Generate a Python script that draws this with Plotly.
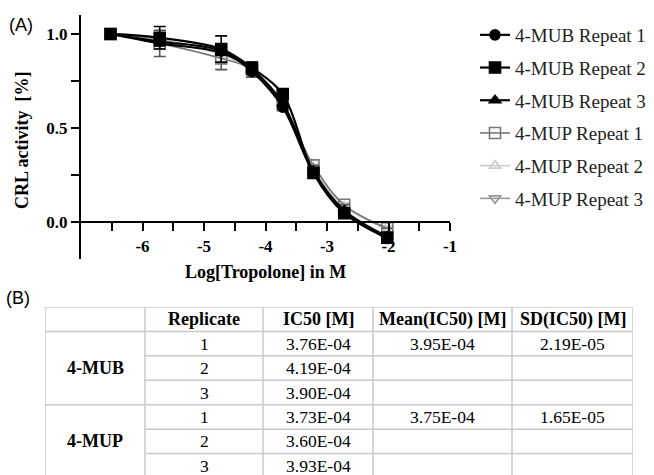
import plotly.graph_objects as go

# ---------------- data ----------------
log_conc = [-6.52, -5.72, -4.72, -4.22, -3.72, -3.22, -2.72, -2.02]

series_names = ["4-MUB Repeat 1", "4-MUB Repeat 2", "4-MUB Repeat 3",
                "4-MUP Repeat 1", "4-MUP Repeat 2", "4-MUP Repeat 3"]
mub1 = [1.00, 0.96, 0.91, 0.80, 0.61, 0.26, 0.050, -0.090]
mub2 = [1.00, 0.98, 0.92, 0.82, 0.68, 0.26, 0.045, -0.085]
mub3 = [1.00, 0.95, 0.90, 0.81, 0.63, 0.27, 0.060, -0.080]
mup1 = [1.00, 0.95, 0.87, 0.81, 0.62, 0.30, 0.090, -0.035]
mup2 = [1.00, 0.96, 0.89, 0.80, 0.61, 0.29, 0.080, -0.030]
mup3 = [1.00, 0.97, 0.90, 0.81, 0.63, 0.29, 0.085, -0.040]

# error bars (+/-), zero where not visible
mub2_err_plus = [0, 0.06, 0.07, 0.03, 0, 0, 0, 0]
mub2_err_minus = [0, 0.06, 0.07, 0.03, 0, 0, 0, 0]
mup1_err_plus = [0, 0.07, 0.06, 0.02, 0, 0, 0, 0]
mup1_err_minus = [0, 0.07, 0.06, 0.04, 0, 0, 0, 0]

x_tickvals = [-6.5, -6, -5.5, -5, -4.5, -4, -3.5, -3, -2.5, -2, -1.5, -1]
x_ticktext = ["", "-6", "", "-5", "", "-4", "", "-3", "", "-2", "", "-1"]
y_tickvals = [0, 0.25, 0.5, 0.75, 1.0]
y_ticktext = ["0.0", "", "0.5", "", "1.0"]

# table data
tbl_header = ["", "Replicate", "IC50 [M]", "Mean(IC50) [M]", "SD(IC50) [M]"]
tbl_groups = ["4-MUB", "4-MUP"]
tbl_replicates = ["1", "2", "3"]
tbl_ic50 = [["3.76E-04", "4.19E-04", "3.90E-04"],
            ["3.73E-04", "3.60E-04", "3.93E-04"]]
tbl_mean = ["3.95E-04", "3.75E-04"]
tbl_sd = ["2.19E-05", "1.65E-05"]

# ---------------- layout constants ----------------
W, H = 654, 475
SERIF = "Liberation Serif, Times New Roman, serif"
SANS = "Liberation Sans, Arial, sans-serif"

def px_x(p):
    return p / W

def px_y(p):
    return 1 - p / H

plot_left, plot_right = 81, 450
plot_top, plot_bottom = 15.2, 259.2
y_zero_px = 221.7

styles = [
    dict(color="black", symbol="circle", width=2.2, size=10),
    dict(color="black", symbol="square", width=2.2, size=11),
    dict(color="black", symbol="triangle-up", width=2.2, size=10),
    dict(color="#777777", symbol="square-open", width=1.6, size=11),
    dict(color="#cccccc", symbol="triangle-up-open", width=1.6, size=10),
    dict(color="#999999", symbol="triangle-down-open", width=1.6, size=10),
]
values = [mub1, mub2, mub3, mup1, mup2, mup3]
errs = {1: (mub2_err_plus, mub2_err_minus, "black"),
        3: (mup1_err_plus, mup1_err_minus, "#555555")}

fig = go.Figure()

# draw MUP first (underneath), MUB on top; legend rank keeps order
order = [5, 4, 3, 2, 1, 0]
for i in order:
    st = styles[i]
    kw = {}
    if i in errs:
        ep, em, ec = errs[i]
        kw["error_y"] = dict(type="data", array=ep, arrayminus=em, symmetric=False,
                             color=ec, thickness=1.6, width=6)
    fig.add_trace(go.Scatter(
        x=log_conc, y=values[i], name=series_names[i],
        mode="lines+markers",
        line=dict(color=st["color"], width=st["width"], shape="spline", smoothing=1.0),
        marker=dict(symbol=st["symbol"], size=st["size"], color=st["color"],
                    line=dict(color=st["color"], width=1.6)),
        legendgroup=f"g{i}", legendrank=i + 1,
        xaxis="x", yaxis="y", cliponaxis=False, **kw))

# ---------------- table ----------------
col_w = [100, 118, 110, 139, 121]
tbl_left, tbl_top, row_h = 45, 307, 24.43
col_edges = [0]
for w in col_w:
    col_edges.append(col_edges[-1] + w)
col_centers = [(col_edges[k] + col_edges[k + 1]) / 2 for k in range(len(col_w))]
tbl_w = col_edges[-1]
n_rows = 7
visible_rows = (H - tbl_top) / row_h

grid_col = "#c9c9c9"
shapes = []
for r in range(n_rows + 1):
    x0 = 0 if r in (0, 1, 4, 7) else col_edges[1]
    shapes.append(dict(type="line", xref="x2", yref="y2", x0=x0, x1=tbl_w, y0=r, y1=r,
                       line=dict(color=grid_col, width=1.5)))
for e in col_edges:
    shapes.append(dict(type="line", xref="x2", yref="y2", x0=e, x1=e, y0=0, y1=n_rows,
                       line=dict(color=grid_col, width=1.5)))

ann = []
bold_size = 18
reg_size = 17.5
for c, h in enumerate(tbl_header):
    if h:
        ann.append(dict(x=col_centers[c], y=0.5, xref="x2", yref="y2", text=h, showarrow=False,
                        font=dict(family=SERIF, size=bold_size, color="black", weight="bold")))
for g, name in enumerate(tbl_groups):
    base = 1 + 3 * g
    ann.append(dict(x=col_centers[0], y=base + 1.5, xref="x2", yref="y2", text=name,
                    showarrow=False,
                    font=dict(family=SERIF, size=bold_size, color="black", weight="bold")))
    for r, rep in enumerate(tbl_replicates):
        yy = base + r + 0.5
        ann.append(dict(x=col_centers[1], y=yy, xref="x2", yref="y2", text=rep, showarrow=False,
                        font=dict(family=SERIF, size=reg_size, color="black")))
        ann.append(dict(x=col_centers[2], y=yy, xref="x2", yref="y2", text=tbl_ic50[g][r],
                        showarrow=False, font=dict(family=SERIF, size=reg_size, color="black")))
    ann.append(dict(x=col_centers[3], y=base + 0.5, xref="x2", yref="y2", text=tbl_mean[g],
                    showarrow=False, font=dict(family=SERIF, size=reg_size, color="black")))
    ann.append(dict(x=col_centers[4], y=base + 0.5, xref="x2", yref="y2", text=tbl_sd[g],
                    showarrow=False, font=dict(family=SERIF, size=reg_size, color="black")))

# panel labels and axis titles
ann.append(dict(x=px_x(7), y=px_y(25), xref="paper", yref="paper", text="(A)", showarrow=False,
                xanchor="left", yanchor="middle", font=dict(family=SANS, size=18, color="black")))
ann.append(dict(x=px_x(4), y=px_y(298), xref="paper", yref="paper", text="(B)", showarrow=False,
                xanchor="left", yanchor="middle", font=dict(family=SANS, size=18, color="black")))
ann.append(dict(x=px_x(265), y=px_y(272), xref="paper", yref="paper", text="Log[Tropolone] in M",
                showarrow=False, xanchor="center", yanchor="middle",
                font=dict(family=SERIF, size=18, color="black", weight="bold")))
ann.append(dict(x=px_x(22), y=px_y(141), xref="paper", yref="paper", text="CRL activity  [%]",
                showarrow=False, textangle=-90, xanchor="center", yanchor="middle",
                font=dict(family=SERIF, size=18, color="black", weight="bold")))

fig.update_layout(
    width=W, height=H,
    margin=dict(l=0, r=0, t=0, b=0, autoexpand=False),
    paper_bgcolor="white", plot_bgcolor="white",
    showlegend=True,
    legend=dict(x=px_x(475), y=px_y(16), xanchor="left", yanchor="top",
                font=dict(family=SERIF, size=19, color="#222222"),
                traceorder="grouped", tracegroupgap=5, bgcolor="rgba(0,0,0,0)"),
    xaxis=dict(domain=[px_x(plot_left), px_x(plot_right)], range=[-7, -1],
               anchor="free", position=px_y(y_zero_px),
               showline=True, linewidth=2, linecolor="black",
               ticks="outside", ticklen=8, tickwidth=2, tickcolor="black",
               tickvals=x_tickvals, ticktext=x_ticktext, ticklabelstandoff=1,
               tickfont=dict(family=SERIF, size=17, color="black", weight="bold"),
               showgrid=False, zeroline=False),
    yaxis=dict(domain=[px_y(plot_bottom), px_y(plot_top)], range=[-0.2, 1.1],
               anchor="x", showline=True, linewidth=2, linecolor="black",
               ticks="outside", ticklen=8, tickwidth=2, tickcolor="black",
               tickvals=y_tickvals, ticktext=y_ticktext,
               tickfont=dict(family=SERIF, size=17, color="black", weight="bold"),
               showgrid=False, zeroline=False),
    xaxis2=dict(domain=[px_x(tbl_left), px_x(tbl_left + tbl_w)], range=[0, tbl_w],
                anchor="y2", visible=False, fixedrange=True),
    yaxis2=dict(domain=[0, px_y(tbl_top)], range=[visible_rows, 0],
                anchor="x2", visible=False, fixedrange=True),
    shapes=shapes,
    annotations=ann,
)

fig.write_html("out.html", config={"displayModeBar": False},
               post_script="document.body.style.margin='0px';")
